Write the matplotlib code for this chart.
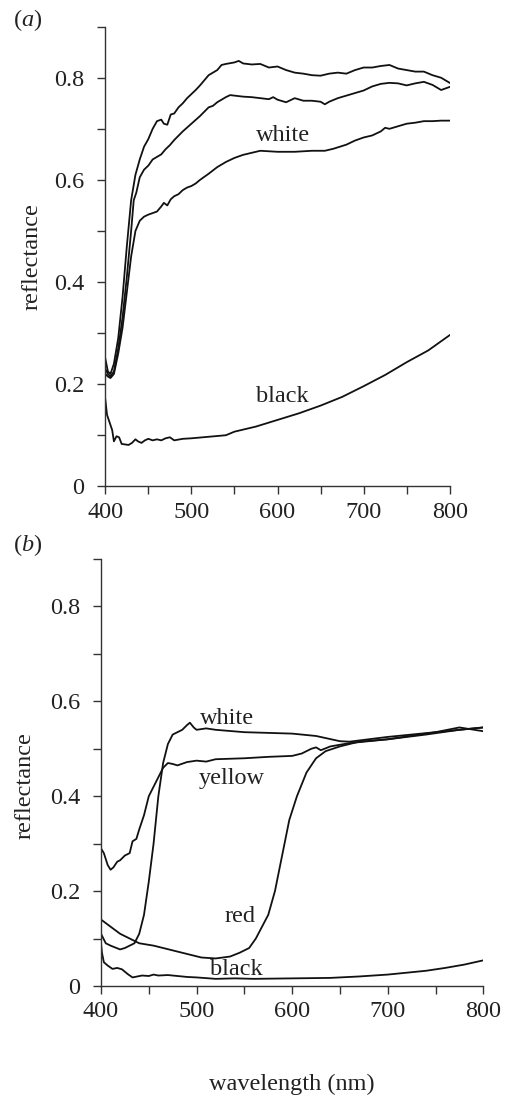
import numpy as np
import matplotlib
matplotlib.use("Agg")
import matplotlib.pyplot as plt
from matplotlib.ticker import MultipleLocator, FuncFormatter

plt.rcParams['font.family'] = ['Liberation Serif', 'DejaVu Serif']
plt.rcParams['mathtext.fontset'] = 'custom'
plt.rcParams['mathtext.rm'] = 'Liberation Serif'
plt.rcParams['mathtext.it'] = 'Liberation Serif:italic'

# panel (a): three white morphs and one black
wa1_wl = [400, 403, 406, 410, 415, 420, 425, 430, 435, 440, 445, 450, 455, 460, 465, 468, 472, 476, 480,
          485, 490, 495, 500, 505, 510, 515, 520, 525, 530, 535, 540, 550, 555, 560, 570, 580, 590, 600,
          610, 620, 630, 640, 650, 660, 670, 680, 690, 700, 710, 720, 730, 740, 750, 760, 770, 780, 790, 800]
wa1 = [0.25, 0.225, 0.22, 0.24, 0.29, 0.37, 0.47, 0.56, 0.61, 0.64, 0.665, 0.68, 0.70, 0.715, 0.718, 0.71,
       0.708, 0.728, 0.73, 0.742, 0.75, 0.76, 0.768, 0.776, 0.785, 0.795, 0.805, 0.81, 0.815, 0.825, 0.827,
       0.83, 0.833, 0.828, 0.826, 0.827, 0.82, 0.822, 0.815, 0.81, 0.808, 0.805, 0.804, 0.808, 0.81, 0.808,
       0.815, 0.82, 0.82, 0.823, 0.825, 0.818, 0.815, 0.812, 0.812, 0.805, 0.80, 0.79]

wa2_wl = [400, 403, 406, 410, 415, 420, 425, 430, 433, 436, 440, 445, 450, 455, 460, 465, 470, 475, 480,
          490, 500, 510, 520, 525, 530, 540, 545, 550, 560, 570, 580, 590, 595, 600, 610, 620, 630, 640,
          650, 655, 660, 670, 680, 690, 700, 710, 720, 730, 740, 750, 760, 770, 780, 790, 800]
wa2 = [0.23, 0.22, 0.215, 0.225, 0.27, 0.33, 0.41, 0.50, 0.56, 0.575, 0.605, 0.62, 0.628, 0.64, 0.645,
       0.65, 0.66, 0.668, 0.678, 0.695, 0.71, 0.725, 0.742, 0.745, 0.752, 0.762, 0.766, 0.765, 0.763,
       0.762, 0.76, 0.758, 0.762, 0.757, 0.752, 0.76, 0.755, 0.755, 0.753, 0.748, 0.753, 0.76, 0.765,
       0.77, 0.775, 0.783, 0.788, 0.79, 0.789, 0.785, 0.789, 0.792, 0.786, 0.776, 0.782]

wa3_wl = [400, 403, 406, 410, 415, 420, 425, 430, 435, 440, 445, 450, 455, 460, 465, 468, 472, 476, 480,
          485, 490, 495, 500, 505, 510, 520, 530, 540, 550, 560, 570, 580, 590, 600, 620, 640, 655, 665,
          680, 690, 700, 710, 720, 725, 730, 740, 750, 760, 770, 780, 790, 800]
wa3 = [0.22, 0.215, 0.212, 0.22, 0.26, 0.31, 0.38, 0.45, 0.50, 0.52, 0.528, 0.532, 0.535, 0.538, 0.548,
       0.555, 0.55, 0.562, 0.568, 0.572, 0.58, 0.585, 0.588, 0.593, 0.60, 0.612, 0.625, 0.635, 0.643,
       0.649, 0.653, 0.657, 0.656, 0.655, 0.655, 0.657, 0.657, 0.661, 0.669, 0.677, 0.683, 0.687, 0.695,
       0.702, 0.70, 0.705, 0.71, 0.712, 0.715, 0.715, 0.716, 0.716]

ba_wl = [400, 402, 405, 408, 410, 413, 416, 419, 423, 427, 431, 435, 438, 442, 446, 450, 455, 460, 465,
         470, 475, 480, 490, 500, 520, 540, 550, 575, 600, 625, 650, 675, 700, 725, 750, 775, 800]
ba = [0.17, 0.14, 0.125, 0.11, 0.088, 0.098, 0.096, 0.083, 0.082, 0.081, 0.085, 0.092, 0.088, 0.085,
      0.09, 0.093, 0.09, 0.092, 0.09, 0.094, 0.096, 0.09, 0.093, 0.094, 0.097, 0.10, 0.107, 0.117, 0.13,
      0.143, 0.158, 0.175, 0.196, 0.218, 0.243, 0.266, 0.296]

# panel (b): white, yellow, red, black
wb_wl = [400, 405, 410, 420, 425, 430, 435, 440, 445, 450, 455, 460, 465, 470, 475, 480, 485, 490, 493,
         497, 500, 510, 520, 550, 600, 625, 650, 660, 700, 750, 775, 800]
wb = [0.11, 0.09, 0.085, 0.077, 0.08, 0.085, 0.09, 0.11, 0.15, 0.22, 0.30, 0.40, 0.47, 0.51, 0.53, 0.535,
      0.54, 0.55, 0.555, 0.545, 0.54, 0.543, 0.54, 0.535, 0.532, 0.527, 0.516, 0.515, 0.525, 0.535,
      0.545, 0.537]

yb_wl = [400, 403, 407, 410, 413, 417, 420, 425, 430, 433, 437, 440, 445, 450, 455, 460, 465, 470, 475,
         480, 490, 500, 510, 520, 550, 575, 600, 610, 620, 625, 630, 640, 660, 700, 750, 775, 800]
yb = [0.29, 0.28, 0.255, 0.245, 0.25, 0.262, 0.265, 0.275, 0.28, 0.305, 0.31, 0.33, 0.36, 0.40, 0.42,
      0.44, 0.46, 0.47, 0.468, 0.465, 0.472, 0.475, 0.473, 0.478, 0.48, 0.483, 0.485, 0.49, 0.50, 0.503,
      0.497, 0.505, 0.512, 0.52, 0.535, 0.54, 0.545]

rb_wl = [400, 410, 420, 430, 440, 455, 475, 485, 495, 505, 520, 535, 545, 555, 562, 575, 582, 587, 592,
         597, 605, 615, 625, 635, 650, 670, 700, 740, 775, 800]
rb = [0.14, 0.125, 0.11, 0.10, 0.09, 0.085, 0.075, 0.07, 0.065, 0.06, 0.058, 0.062, 0.07, 0.08, 0.10,
      0.15, 0.20, 0.25, 0.30, 0.35, 0.40, 0.45, 0.48, 0.495, 0.505, 0.515, 0.52, 0.53, 0.54, 0.545]

bb_wl = [400, 401, 403, 407, 412, 417, 422, 428, 433, 438, 443, 450, 455, 460, 470, 480, 490, 500, 520,
         540, 560, 600, 640, 670, 700, 720, 740, 760, 780, 800]
bb = [0.09, 0.07, 0.05, 0.043, 0.036, 0.038, 0.035, 0.025, 0.018, 0.02, 0.022, 0.021, 0.024, 0.022,
      0.023, 0.021, 0.019, 0.018, 0.015, 0.016, 0.015, 0.016, 0.017, 0.02, 0.024, 0.028, 0.032, 0.038,
      0.045, 0.054]

fs = 17.5
ink = '#222222'

fig = plt.figure(figsize=(5.07, 11.02), dpi=100)
ax_a = fig.add_axes([0.2077, 0.5587, 0.6793, 0.4171])
ax_b = fig.add_axes([0.1992, 0.1053, 0.7541, 0.3874])


def style(ax):
    ax.set_xlim(400, 800)
    ax.set_ylim(0, 0.9)
    for s in ['top', 'right']:
        ax.spines[s].set_visible(False)
    for s in ['left', 'bottom']:
        ax.spines[s].set_color('#333333')
        ax.spines[s].set_linewidth(1.0)
    ax.xaxis.set_major_locator(MultipleLocator(100))
    ax.xaxis.set_minor_locator(MultipleLocator(50))
    ax.yaxis.set_major_locator(MultipleLocator(0.2))
    ax.yaxis.set_minor_locator(MultipleLocator(0.1))
    ax.yaxis.set_major_formatter(FuncFormatter(lambda v, p: '0' if v == 0 else '%.1f' % v))
    ax.tick_params(which='both', direction='out', length=6, width=1.0, color='#333333',
                   labelsize=fs, labelcolor=ink)
    ax.tick_params(axis='y', pad=9)
    ax.tick_params(axis='x', pad=5)
    ax.set_ylabel('reflectance', fontsize=fs, color=ink, labelpad=8)


lw = 1.3
for wl, v in [(wa1_wl, wa1), (wa2_wl, wa2), (wa3_wl, wa3), (ba_wl, ba)]:
    ax_a.plot(wl, v, color='#111111', lw=lw)
style(ax_a)
ax_a.text(606, 0.687, 'white', fontsize=fs, color=ink, ha='center', va='center')
ax_a.text(606, 0.175, 'black', fontsize=fs, color=ink, ha='center', va='center')

for wl, v in [(wb_wl, wb), (yb_wl, yb), (rb_wl, rb), (bb_wl, bb)]:
    ax_b.plot(wl, v, color='#111111', lw=lw)
style(ax_b)
ax_b.yaxis.set_label_coords(-0.17, 0.47)
ax_b.set_xlabel('wavelength (nm)', fontsize=fs, color=ink, labelpad=37)
ax_b.text(532, 0.564, 'white', fontsize=fs, color=ink, ha='center', va='center')
ax_b.text(537, 0.438, 'yellow', fontsize=fs, color=ink, ha='center', va='center')
ax_b.text(545, 0.147, 'red', fontsize=fs, color=ink, ha='center', va='center')
ax_b.text(542, 0.034, 'black', fontsize=fs, color=ink, ha='center', va='center')

fig.text(28 / 507, 1 - 20 / 1102, r'($\mathit{a}$)', fontsize=fs, color=ink, ha='center', va='center')
fig.text(28 / 507, 1 - 545 / 1102, r'($\mathit{b}$)', fontsize=fs, color=ink, ha='center', va='center')

fig.savefig('out.png', dpi=100)
